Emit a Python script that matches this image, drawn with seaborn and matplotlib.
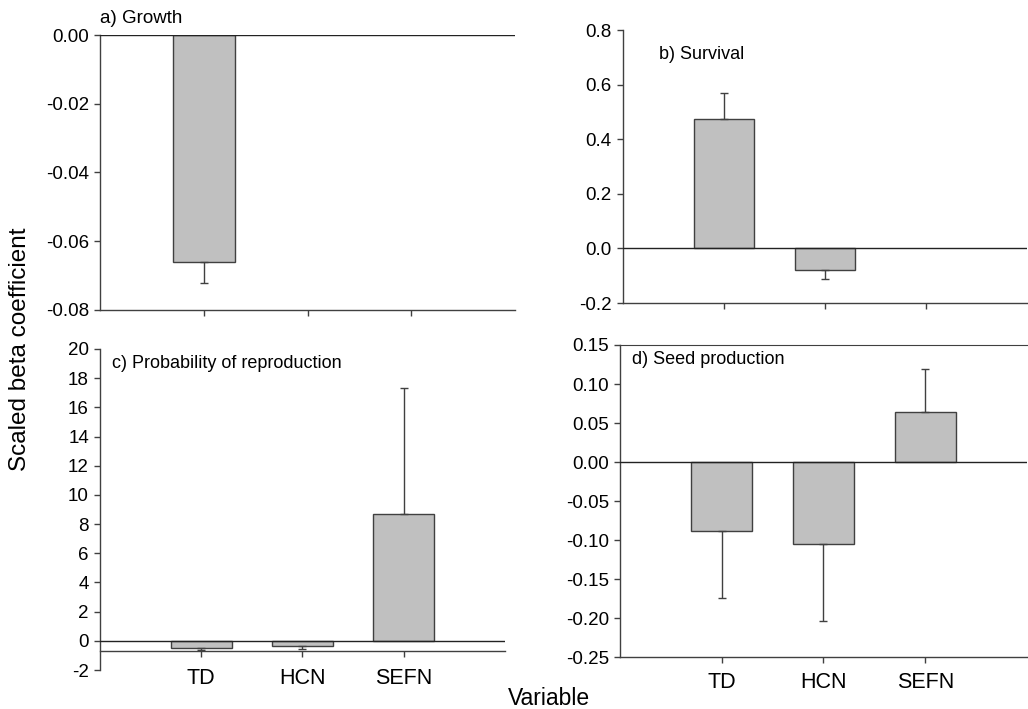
import numpy as np
import pandas as pd
import matplotlib
matplotlib.use("Agg")
import matplotlib.pyplot as plt
import seaborn as sns

# values
categories = ["TD", "HCN", "SEFN"]
growth = [-0.066, np.nan, np.nan]
growth_err = [0.0062, np.nan, np.nan]
survival = [0.473, -0.079, np.nan]
survival_err = [0.098, 0.032, np.nan]
reproduction = [-0.46, -0.34, 8.70]
reproduction_err = [0.18, 0.23, 8.64]
seed = [-0.0886, -0.1057, 0.0642]
seed_err = [0.0854, 0.0983, 0.0556]

sns.set_style("white")
plt.rcParams["font.family"] = ["Liberation Sans", "DejaVu Sans"]
plt.rcParams["text.color"] = "black"
plt.rcParams["xtick.labelcolor"] = "black"
plt.rcParams["ytick.labelcolor"] = "black"

BAR = "#c0c0c0"
EDGE = "#404040"
AXC = "#404040"

fig = plt.figure(figsize=(10.28, 7.09), dpi=100)

panels = [
    # rect, values, errors, ylim, yticks, fmt, title, title pos, show x labels
    ([0.0973, 0.5628, 0.4037, 0.3878], growth, growth_err, (-0.08, 0.0),
     np.arange(-0.08, 0.001, 0.02), "{:.2f}", "a) Growth", "outside", False),
    ([0.606, 0.5726, 0.393, 0.385], survival, survival_err, (-0.2, 0.8),
     np.arange(-0.2, 0.81, 0.2), "{:.1f}", "b) Survival", (0.09, 0.91), False),
    ([0.0973, 0.055, 0.3937, 0.4528], reproduction, reproduction_err, (-2, 20),
     np.arange(-2, 21, 2), "{:.0f}", "c) Probability of reproduction", (0.03, 0.955), True),
    ([0.603, 0.0733, 0.396, 0.4401], seed, seed_err, (-0.25, 0.15),
     np.arange(-0.25, 0.151, 0.05), "{:.2f}", "d) Seed production", (0.03, 0.955), True),
]

for i, (rect, vals, errs, ylim, yticks, fmt, title, tpos, xlab) in enumerate(panels):
    ax = fig.add_axes(rect)
    df = pd.DataFrame({"Variable": categories, "beta": vals})
    sns.barplot(data=df, x="Variable", y="beta", order=categories, ax=ax,
                color=BAR, edgecolor=EDGE, linewidth=1.0, width=0.6,
                saturation=1, errorbar=None)
    for b in ax.patches:
        b.set_facecolor(BAR)

    # one-sided error bars pointing away from zero
    v = np.array(vals, dtype=float)
    e = np.array(errs, dtype=float)
    lower = np.where(v < 0, e, 0)
    upper = np.where(v >= 0, e, 0)
    ax.errorbar(np.arange(len(categories)), v, yerr=[lower, upper], fmt="none",
                ecolor=EDGE, elinewidth=1.0, capsize=3, capthick=1.0)

    # spines first: moving a spine resets the tick labels
    for s in ["left", "bottom"]:
        ax.spines[s].set_visible(True)
        ax.spines[s].set_color(AXC)
        ax.spines[s].set_linewidth(1.0)
    ax.spines["right"].set_visible(False)
    ax.spines["top"].set_visible(i == 3)
    ax.spines["top"].set_color(AXC)
    if i == 2:
        ax.spines["bottom"].set_position(("data", -0.73))

    ax.axhline(0, color="#222222", lw=1.0, zorder=3)
    ax.set_xlim(-1, 3)
    ax.set_ylim(*ylim)
    ax.set_yticks(yticks)
    ax.set_yticklabels([fmt.format(t) if abs(t) > 1e-9 else fmt.format(0) for t in yticks],
                       fontsize=13.5)
    ax.set_xticks(range(len(categories)))
    if xlab:
        ax.set_xticklabels(categories, fontsize=15.5)
    else:
        ax.set_xticklabels([])
    ax.set_xlabel("")
    ax.set_ylabel("")
    ax.tick_params(axis="both", direction="out", length=4, width=1, color=AXC,
                   left=True, bottom=True, pad=4)
    if i == 2:
        ax.tick_params(axis="x", pad=8)
    elif i == 3:
        ax.tick_params(axis="x", pad=7)

    if tpos == "outside":
        ax.text(0.0, 1.03, title, transform=ax.transAxes, fontsize=13.5,
                ha="left", va="bottom")
    else:
        ax.text(tpos[0], tpos[1], title, transform=ax.transAxes, fontsize=13,
                ha="left", va="center")

fig.text(0.0195, 0.508, "Scaled beta coefficient", rotation=90, fontsize=17.5,
         ha="center", va="center")
fig.text(0.534, 0.0155, "Variable", fontsize=16.5, ha="center", va="center")

fig.savefig("out.png", dpi=100)
